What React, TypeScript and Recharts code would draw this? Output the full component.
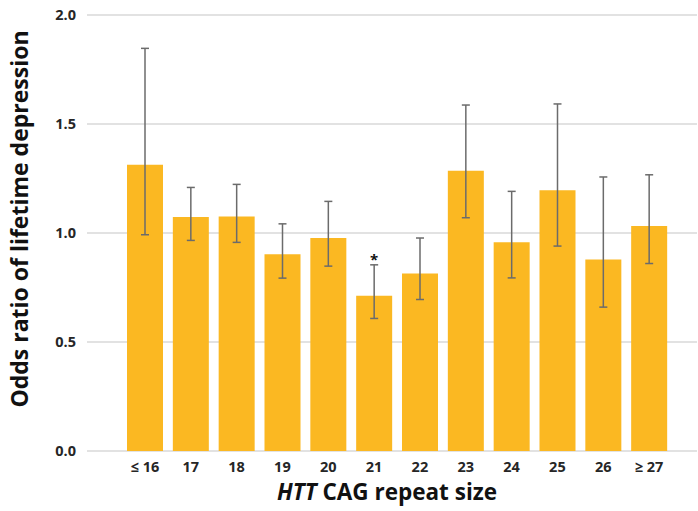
import React from 'react';
import { BarChart, Bar, XAxis, YAxis, CartesianGrid, ErrorBar, ReferenceDot, Label } from 'recharts';

const categories = ['≤ 16', '17', '18', '19', '20', '21', '22', '23', '24', '25', '26', '≥ 27'];
const oddsRatio = [1.313, 1.073, 1.076, 0.903, 0.977, 0.712, 0.814, 1.286, 0.958, 1.196, 0.879, 1.032];
const ciLower = [0.992, 0.966, 0.957, 0.793, 0.848, 0.608, 0.695, 1.070, 0.794, 0.940, 0.660, 0.860];
const ciUpper = [1.847, 1.209, 1.223, 1.042, 1.145, 0.854, 0.977, 1.587, 1.191, 1.592, 1.257, 1.267];
const significant = [false, false, false, false, false, true, false, false, false, false, false, false];
const yTicks = [0, 0.5, 1.0, 1.5, 2.0];

const data = categories.map((c, i) => ({
  cat: c,
  or: oddsRatio[i],
  err: [oddsRatio[i] - ciLower[i], ciUpper[i] - oddsRatio[i]],
}));

const FONT = '"Open Sans", sans-serif';

const YTitle = (props: any) => {
  const vb = props.viewBox || {};
  const x = 19.5;
  const y = vb.y + vb.height / 2 - 14;
  return (
    <text
      x={x}
      y={y}
      dy="0.36em"
      transform={`rotate(-90 ${x} ${y})`}
      textAnchor="middle"
      fontFamily={FONT}
      fontWeight={700}
      fontSize={23}
      fill="#111"
    >
      Odds ratio of lifetime depression
    </text>
  );
};

const XTitle = (props: any) => {
  const vb = props.viewBox || {};
  const x = vb.x + vb.width / 2 - 5;
  const y = 499.5;
  return (
    <text x={x} y={y} textAnchor="middle" fontFamily={FONT} fontWeight={700} fontSize={22.5} fill="#111">
      <tspan fontStyle="italic">HTT</tspan> CAG repeat size
    </text>
  );
};

export default function App() {
  return (
    <div style={{ position: 'absolute', left: 0, top: 0, background: '#fff' }}>
      <BarChart width={698} height={511} data={data} margin={{ top: 15, right: 1, bottom: 0, left: 0 }}>
        <CartesianGrid vertical={false} stroke="#d9d9d9" strokeWidth={1.5} />
        <XAxis
          dataKey="cat"
          axisLine={false}
          tickLine={false}
          tickSize={0}
          tickMargin={11}
          height={60}
          padding={{ left: 35, right: 25 }}
          interval={0}
          tick={{ fontFamily: FONT, fontWeight: 700, fontSize: 14.5, fill: '#262626' }}
        >
          <Label content={<XTitle />} />
        </XAxis>
        <YAxis
          domain={[0, 2]}
          ticks={yTicks}
          width={87}
          axisLine={false}
          tickLine={false}
          tickSize={0}
          tickMargin={11}
          tickFormatter={(v: number) => v.toFixed(1)}
          tick={{ fontFamily: FONT, fontWeight: 700, fontSize: 14.5, fill: '#262626' }}
        >
          <Label content={<YTitle />} />
        </YAxis>
        <Bar dataKey="or" fill="#FBB822" barSize={36} isAnimationActive={false}>
          <ErrorBar dataKey="err" width={4} stroke="#6b6b6b" strokeWidth={1.5} isAnimationActive={false} />
        </Bar>
        {categories.map((c, i) =>
          significant[i] ? (
            <ReferenceDot
              key={c}
              x={c}
              y={ciUpper[i]}
              r={0}
              fill="none"
              stroke="none"
              label={{ value: '*', position: 'top', offset: 0, fontFamily: FONT, fontWeight: 700, fontSize: 15, fill: '#111' }}
            />
          ) : null
        )}
      </BarChart>
    </div>
  );
}
